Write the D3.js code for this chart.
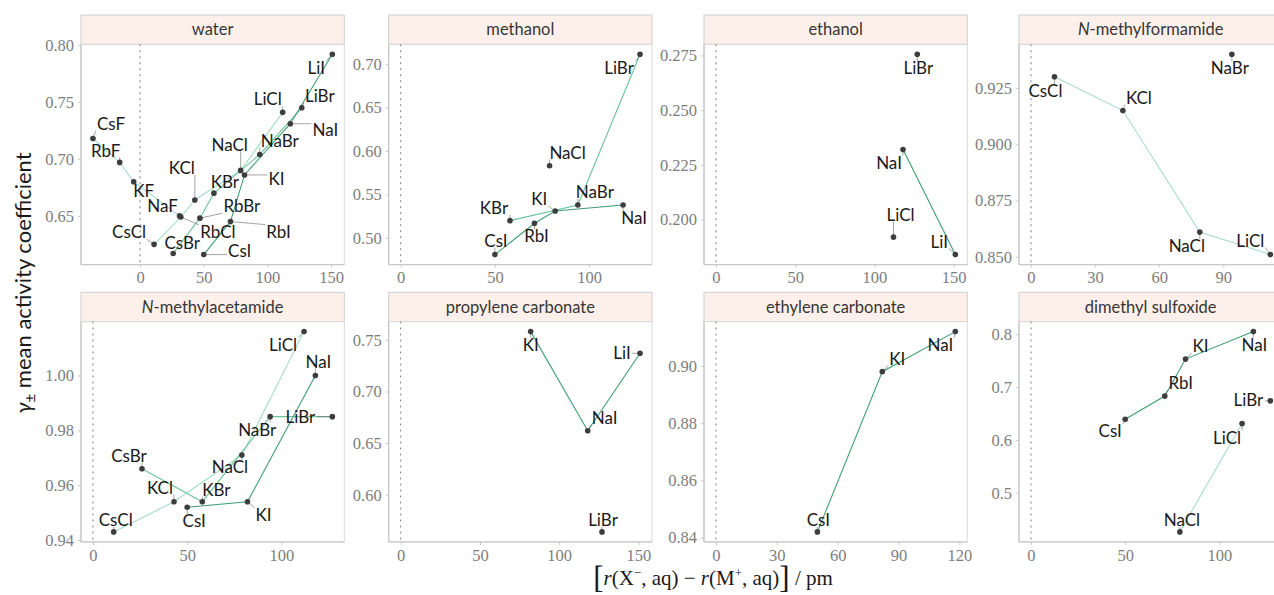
<!DOCTYPE html>
<html><head><meta charset="utf-8">
<script src="https://cdn.jsdelivr.net/npm/d3@7"></script>
<style>body{margin:0;background:#fff}</style>
</head><body>
<svg id="chart" width="1274" height="595"></svg>
<script>
// ---------------- DATA ----------------
const solvents = ["water","methanol","ethanol","N-methylformamide","N-methylacetamide","propylene carbonate","ethylene carbonate","dimethyl sulfoxide"];

// x: r(X-,aq) - r(M+,aq) / pm
const saltNames = ["LiCl","LiBr","LiI","NaF","NaCl","NaBr","NaI","KF","KCl","KBr","KI","RbF","RbCl","RbBr","RbI","CsF","CsCl","CsBr","CsI"];
const saltX     = [112,   127,   151,  31,   79,    94,    118,  -5,   43,   58,   82,   -16,  32,    47,    71,   -37,  11,    26,    50];

const waterSalts  = ["CsF","RbF","KF","NaF","CsCl","RbCl","KCl","NaCl","LiCl","CsBr","RbBr","KBr","NaBr","LiBr","CsI","RbI","KI","NaI","LiI"];
const waterGamma  = [0.718,0.697,0.680,0.650,0.625,0.649,0.664,0.690,0.741,0.617,0.648,0.670,0.704,0.745,0.616,0.645,0.686,0.731,0.792];
const methanolSalts = ["NaCl","KBr","NaBr","LiBr","CsI","RbI","KI","NaI"];
const methanolGamma = [0.583,0.520,0.538,0.711,0.481,0.517,0.531,0.538];
const ethanolSalts = ["LiCl","LiBr","NaI","LiI"];
const ethanolGamma = [0.192,0.2755,0.232,0.184];
const nmfSalts = ["CsCl","KCl","NaCl","LiCl","NaBr"];
const nmfGamma = [0.930,0.915,0.861,0.851,0.940];
const nmaSalts = ["CsCl","KCl","NaCl","LiCl","CsBr","KBr","NaBr","LiBr","CsI","KI","NaI"];
const nmaGamma = [0.943,0.954,0.971,1.016,0.966,0.954,0.985,0.985,0.952,0.954,1.000];
const pcSalts = ["LiBr","KI","NaI","LiI"];
const pcGamma = [0.564,0.758,0.662,0.737];
const ecSalts = ["CsI","KI","NaI"];
const ecGamma = [0.842,0.898,0.912];
const dmsoSalts = ["NaCl","LiCl","LiBr","CsI","RbI","KI","NaI"];
const dmsoGamma = [0.426,0.631,0.674,0.639,0.683,0.753,0.805];

const panelSalts = [waterSalts, methanolSalts, ethanolSalts, nmfSalts, nmaSalts, pcSalts, ecSalts, dmsoSalts];
const panelGamma = [waterGamma, methanolGamma, ethanolGamma, nmfGamma, nmaGamma, pcGamma, ecGamma, dmsoGamma];

const xTicks = [[0,50,100,150],[0,50,100],[0,50,100,150],[0,30,60,90],[0,50,100],[0,50,100,150],[0,30,60,90,120],[0,50,100]];
const yTicks = [[0.65,0.70,0.75,0.80],[0.50,0.55,0.60,0.65,0.70],[0.200,0.225,0.250,0.275],[0.850,0.875,0.900,0.925],
                [0.94,0.96,0.98,1.00],[0.60,0.65,0.70,0.75],[0.84,0.86,0.88,0.90],[0.5,0.6,0.7,0.8]];
const yTickFmt = [".2f",".2f",".3f",".3f",".2f",".2f",".2f",".1f"];
const anionOrder = ["F","Cl","Br","I"];

// ---------------- LAYOUT / STYLE ----------------
const colLeft = [81, 388.7, 704, 1019];
const panelW = 263.3;
const stripTop = [15, 292.3];
const stripH = 29.3;
const panelH = 220.3;
const anionColor = {F:"#a8dedb", Cl:"#a6dcc8", Br:"#6cc39c", I:"#3f9e74"};
// label offsets (label centre relative to point, px)
const labelOff = [
 {CsF:[18,-15],RbF:[-14,-12],KF:[10,9],NaF:[-17,-10],RbCl:[37,15],CsCl:[-25,-12],KCl:[-13,-32],NaCl:[-11,-26],LiCl:[-15,-13],
  CsBr:[9,-11],RbBr:[42,-12],KBr:[11,-11],NaBr:[20,-14],LiBr:[18,-12],CsI:[36,-4],RbI:[48,10],KI:[32,4],NaI:[35,6],LiI:[-16,14]},
 {LiBr:[-21,14],NaCl:[18,-13],KBr:[-16,-13],KI:[-16,-12],RbI:[2,13],NaBr:[17,-13],NaI:[11,13],CsI:[1,-14]},
 {LiBr:[1,14],NaI:[-14,13],LiCl:[7,-22],LiI:[-16,-13]},
 {CsCl:[-9,14],KCl:[16,-13],NaCl:[-13,14],LiCl:[-20,-14],NaBr:[-2,14]},
 {CsCl:[2,-12],KCl:[-14,-14],NaCl:[-12,12],LiCl:[-21,13],CsBr:[-13,-13],KBr:[14,-12],NaBr:[-13,13],LiBr:[-32,0],CsI:[7,14],KI:[16,13],NaI:[3,-14]},
 {KI:[0,13],LiI:[-18,0],NaI:[17,-13],LiBr:[1,-12]},
 {NaI:[-15,13],KI:[15,-13],CsI:[1,-12]},
 {NaI:[1,13],KI:[15,-13],RbI:[16,-13],CsI:[-15,12],LiBr:[-22,-1],LiCl:[-15,14],NaCl:[2,-12]}
];

const svg = d3.select("#chart");
const saltXOf = n => saltX[saltNames.indexOf(n)];
const anionOf = n => n.replace(/^(Li|Na|K|Rb|Cs)/, "");

solvents.forEach((solv, i) => {
  const col = i % 4, row = Math.floor(i / 4);
  const x0 = colLeft[col], sTop = stripTop[row], pTop = sTop + stripH;
  const names = panelSalts[i], gam = panelGamma[i];
  const pts = names.map((n, k) => ({name: n, x: saltXOf(n), y: gam[k], anion: anionOf(n)}));

  const xe = d3.extent([0, ...pts.map(p => p.x)]);
  const xp = (xe[1] - xe[0]) * 0.05;
  const ye = d3.extent(pts, p => p.y);
  const yp = (ye[1] - ye[0]) * 0.05;
  const xs = d3.scaleLinear().domain([xe[0] - xp, xe[1] + xp]).range([x0, x0 + panelW]);
  const ys = d3.scaleLinear().domain([ye[0] - yp, ye[1] + yp]).range([pTop + panelH, pTop]);

  const g = svg.append("g");
  // strip
  g.append("rect").attr("x", x0).attr("y", sTop).attr("width", panelW).attr("height", stripH)
    .attr("fill", "#fdf0ea").attr("stroke", "#cfcfcf").attr("stroke-width", 1);
  const st = g.append("text").attr("x", x0 + panelW / 2).attr("y", sTop + stripH / 2).attr("dy", "0.35em")
    .attr("text-anchor", "middle").attr("font-family", "Lato, sans-serif").attr("font-size", 16.5).attr("fill", "#363636");
  if (solv.startsWith("N-")) {
    st.append("tspan").attr("font-style", "italic").text("N");
    st.append("tspan").text(solv.slice(1));
  } else st.text(solv);

  // panel border
  g.append("rect").attr("x", x0).attr("y", pTop).attr("width", panelW).attr("height", panelH)
    .attr("fill", "none").attr("stroke", "#dadada").attr("stroke-width", 1);
  g.append("line").attr("x1", x0).attr("x2", x0 + panelW).attr("y1", pTop + panelH).attr("y2", pTop + panelH)
    .attr("stroke", "#c8c8c8").attr("stroke-width", 1.3);
  g.append("line").attr("x1", x0).attr("x2", x0).attr("y1", pTop).attr("y2", pTop + panelH)
    .attr("stroke", "#c8c8c8").attr("stroke-width", 1.3);

  // axes
  const xa = g.append("g").attr("transform", `translate(0,${pTop + panelH})`)
    .call(d3.axisBottom(xs).tickValues(xTicks[i]).tickSize(3).tickPadding(4).tickFormat(d3.format("d")));
  const ya = g.append("g").attr("transform", `translate(${x0},0)`)
    .call(d3.axisLeft(ys).tickValues(yTicks[i]).tickSize(3).tickPadding(4).tickFormat(d3.format(yTickFmt[i])));
  [xa, ya].forEach(a => {
    a.select(".domain").remove();
    a.selectAll("line").attr("stroke", "#c8c8c8");
    a.selectAll("text").attr("font-family", "'Liberation Serif', serif").attr("font-size", 16.5).attr("fill", "#7d7d7d");
  });

  // zero line
  g.append("line").attr("x1", xs(0)).attr("x2", xs(0)).attr("y1", pTop).attr("y2", pTop + panelH)
    .attr("stroke", "#8a8a8a").attr("stroke-width", 1.1).attr("stroke-dasharray", "2,4");

  // lines per anion
  const line = d3.line().x(p => xs(p.x)).y(p => ys(p.y));
  anionOrder.forEach(an => {
    const grp = pts.filter(p => p.anion === an).sort((a, b) => a.x - b.x);
    if (grp.length > 1)
      g.append("path").attr("d", line(grp)).attr("fill", "none").attr("stroke", anionColor[an]).attr("stroke-width", 1.1);
  });

  // labels + segments
  const segG = g.append("g"), ptG = g.append("g"), lblG = g.append("g");
  pts.forEach(p => {
    const px = xs(p.x), py = ys(p.y);
    const off = (labelOff[i][p.name]) || [0, -13];
    const t = lblG.append("text").attr("x", px + off[0]).attr("y", py + off[1]).attr("dy", "0.36em")
      .attr("text-anchor", "middle").attr("font-family", "Lato, sans-serif").attr("font-size", 17)
      .attr("fill", "#1a1a1a").text(p.name);
    const bb = t.node().getBBox();
    const bx0 = bb.x - 1, bx1 = bb.x + bb.width + 1, by0 = py + off[1] - 7, by1 = py + off[1] + 7;
    const cx = Math.max(bx0, Math.min(px, bx1)), cy = Math.max(by0, Math.min(py, by1));
    const d = Math.hypot(cx - px, cy - py);
    if (d > 4)
      segG.append("line").attr("x1", px).attr("y1", py).attr("x2", cx).attr("y2", cy)
        .attr("stroke", "#666").attr("stroke-width", 0.6);
    ptG.append("circle").attr("cx", px).attr("cy", py).attr("r", 2.8).attr("fill", "#3d3d3d");
  });
});

// axis titles
const yt = svg.append("text").attr("transform", "translate(31,283) rotate(-90)").attr("text-anchor", "middle")
  .attr("font-family", "Lato, sans-serif").attr("font-size", 22).attr("fill", "#1a1a1a");
yt.append("tspan").attr("font-style", "italic").text("γ");
yt.append("tspan").attr("font-size", 15).attr("dy", 5).text("±");
yt.append("tspan").attr("dy", -5).text(" mean activity coefficient");

const xt = svg.append("text").attr("x", 713).attr("y", 585).attr("text-anchor", "middle")
  .attr("font-family", "'Liberation Serif', serif").attr("font-size", 21).attr("fill", "#1a1a1a");
xt.append("tspan").attr("font-size", 31).attr("dy", 3).text("[");
xt.append("tspan").attr("font-style", "italic").attr("dy", -3).text("r");
xt.append("tspan").text("(X");
xt.append("tspan").attr("font-size", 13).attr("dy", -8).text("−");
xt.append("tspan").attr("dy", 8).text(", aq) − ");
xt.append("tspan").attr("font-style", "italic").text("r");
xt.append("tspan").text("(M");
xt.append("tspan").attr("font-size", 13).attr("dy", -8).text("+");
xt.append("tspan").attr("dy", 8).text(", aq)");
xt.append("tspan").attr("font-size", 31).attr("dy", 3).text("]");
xt.append("tspan").attr("dy", -3).text(" / pm");
</script></body></html>
